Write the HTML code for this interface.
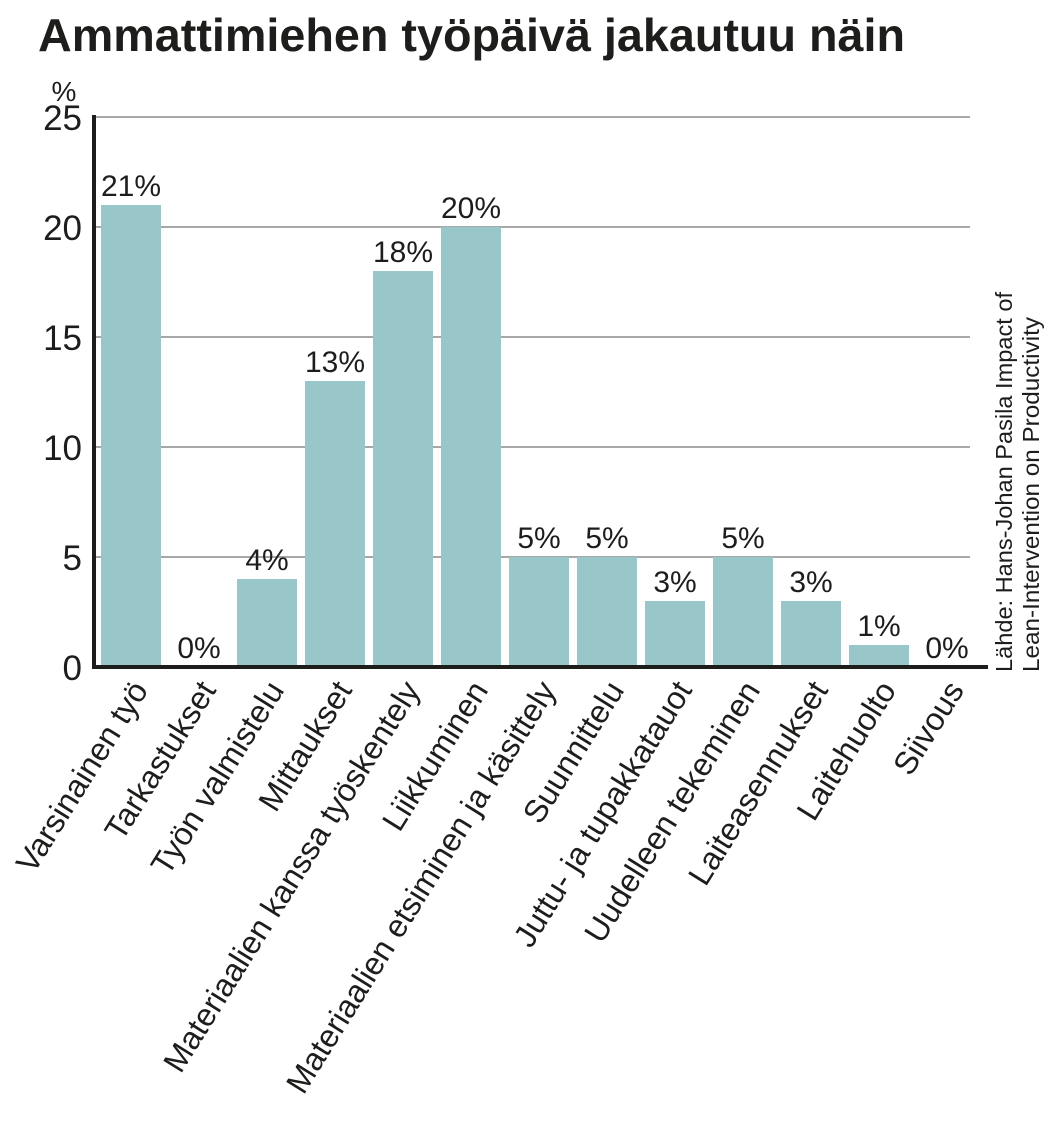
<!DOCTYPE html>
<html><head><meta charset="utf-8"><style>
body{margin:0;background:#fff}
svg{display:block;font-family:"Liberation Sans",sans-serif}
</style></head><body>
<svg width="1052" height="1146" viewBox="0 0 1052 1146">
<text x="38" y="51" font-size="46" font-weight="bold" fill="#1d1d1b" textLength="867" lengthAdjust="spacingAndGlyphs">Ammattimiehen työpäivä jakautuu näin</text>
<text x="64" y="101" font-size="28" fill="#1d1d1b" text-anchor="middle">%</text>
<g id="grid"></g><g id="bars"></g><g id="labels"></g>
<line x1="94" y1="115" x2="94" y2="669" stroke="#1d1d1b" stroke-width="4"/>
<line x1="92" y1="667" x2="988" y2="667" stroke="#1d1d1b" stroke-width="4"/>
<g transform="translate(1012,672) rotate(-90)" font-size="23" fill="#1d1d1b">
<text x="0" y="0" textLength="380" lengthAdjust="spacingAndGlyphs">Lähde: Hans-Johan Pasila Impact of</text>
<text x="0" y="27" textLength="355" lengthAdjust="spacingAndGlyphs">Lean-Intervention on Productivity</text>
</g>
<script>
const categories=["Varsinainen työ","Tarkastukset","Työn valmistelu","Mittaukset","Materiaalien kanssa työskentely","Liikkuminen","Materiaalien etsiminen ja käsittely","Suunnittelu","Juttu- ja tupakkatauot","Uudelleen tekeminen","Laiteasennukset","Laitehuolto","Siivous"];
const values=[21,0,4,13,18,20,5,5,3,5,3,1,0];
const yTicks=[0,5,10,15,20,25];
const NS="http://www.w3.org/2000/svg";
const y=v=>667-v*22;
const x=i=>101+i*68;
const bw=60;
function mk(tag,attrs,parent){const e=document.createElementNS(NS,tag);for(const k in attrs)e.setAttribute(k,attrs[k]);parent.appendChild(e);return e;}
const grid=document.getElementById('grid'),bars=document.getElementById('bars'),labels=document.getElementById('labels');
yTicks.forEach(t=>{
 if(t>0){const l=mk('line',{x1:94,x2:970,y1:y(t),y2:y(t),stroke:'#a8a8a8','stroke-width':2},grid);
 
 }
 const tx=mk('text',{x:82,y:y(t)+13,'font-size':35,'text-anchor':'end',fill:'#1d1d1b'},grid);
 tx.textContent=t;
 
 
});
values.forEach((v,i)=>{
 const h=Math.max(v*22,2);
 const r=mk('rect',{x:x(i),y:667-h,width:bw,height:h,fill:'#99c6c9'},bars);
 
 
 const vl=mk('text',{x:x(i)+bw/2,y:y(v)-9,'font-size':30,'text-anchor':'middle',fill:'#1d1d1b'},labels);
 vl.textContent=v+'%';
 
 
 const cl=mk('text',{transform:`translate(${x(i)+bw/2+18},690) rotate(-58)`,'font-size':32,'text-anchor':'end',fill:'#1d1d1b'},labels);
 cl.textContent=categories[i];
 
 
});
</script>
</svg>
</body></html>
